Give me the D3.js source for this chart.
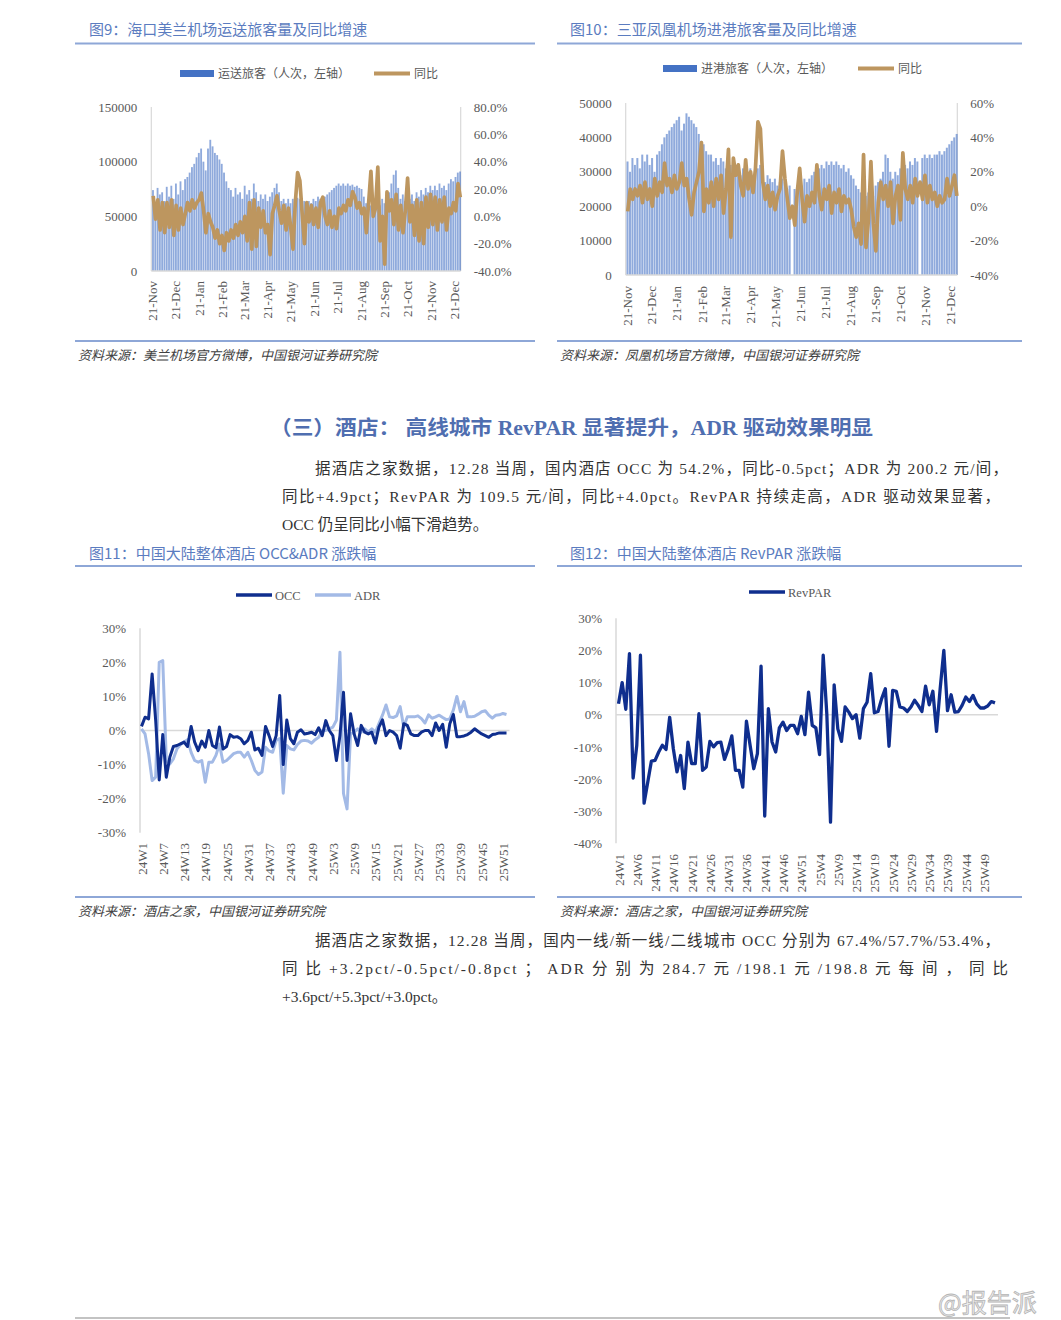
<!DOCTYPE html>
<html><head><meta charset="utf-8">
<script src="https://cdn.jsdelivr.net/npm/d3@7"></script>
<style>
body{margin:0;background:#fff}
svg text{font-family:"Liberation Serif","Noto Sans CJK SC",serif}
</style>
</head><body>
<svg id="c" width="1061" height="1320"></svg>
<script>
// ---------------- DATA ----------------
// Airport charts: one value every 3 days starting 2024-11-21
const seriesStart = '2024-11-21';
const tickDates = ['2024-11-21','2024-12-21','2025-01-21','2025-02-21','2025-03-21','2025-04-21','2025-05-21',
  '2025-06-21','2025-07-21','2025-08-21','2025-09-21','2025-10-21','2025-11-21','2025-12-21'];
// Haikou Meilan passengers (thousand persons)
const meilanPax = [74,62,76,70,
 72,64,77,68,78,66,80,70,82,74,
 84,86,90,95,98,104,108,112,100,92,
 112,120,114,108,106,102,98,90,82,76,
 74,68,76,70,72,66,78,70,74,66,
 80,72,64,70,66,70,64,68,72,76,
 80,72,64,66,62,66,62,66,63,67,
 66,62,64,60,64,62,66,64,68,66,
 66,68,70,72,74,76,78,80,78,80,
 78,80,78,79,77,78,76,75,68,62,
 58,60,62,58,64,60,66,62,68,72,
 80,88,92,76,66,70,64,72,66,70,
 64,72,68,74,70,76,72,78,74,78,
 74,80,76,78,74,80,84,82,86,90,91];
// Haikou Meilan YoY (%)
const meilanYoy = [15,-2,12,-10,
 10,-12,10,-8,12,-14,8,-10,6,-6,
 2,10,4,12,6,10,12,17,4,-12,
 2,-4,-8,-16,-10,-20,-14,-25,-12,-18,
 -10,-16,-6,-14,-4,-12,0,-18,10,-24,
 12,-22,6,-8,4,-12,-6,-28,2,8,
 15,4,-5,8,-10,6,-8,-24,10,32,
 26,2,-20,10,-4,8,-6,6,-8,10,
 14,0,-6,4,-8,0,-9,6,2,8,
 4,12,8,18,14,6,10,2,6,-12,
 10,33,0,6,36,-18,0,-35,18,4,
 12,-6,16,-10,8,-12,4,28,-4,8,
 -14,12,-18,10,-20,14,-8,16,-6,14,
 -10,12,-4,14,-10,6,2,10,4,24,14];
// Sanya Phoenix arrivals (thousand persons)
const fenghuangPax = [33,30,34,32,
 34,31,35,33,35,32,34,30,35,36,
 38,40,41,42,43,44,45,46,42,44,
 47,46,45,44,43,41,39,38,36,35,
 35,33,34,32,34,33,31,33,32,30,
 32,31,29,31,30,29,31,28,30,31,
 32,29,27,29,28,27,28,26,27,28,
 27,25,26,null,25,26,27,26,28,27,
 28,29,30,29,31,32,31,33,32,33,
 32,33,32,31,32,30,31,29,28,26,
 25,24,25,23,24,25,23,26,27,28,
 30,35,34,30,28,30,29,31,30,32,
 31,33,32,34,33,null,34,35,34,35,
 34,35,35,36,35,36,37,38,39,40,41];
// Sanya Phoenix YoY (%)
const fenghuangYoy = [-3,10,4,10,
 6,12,2,14,4,10,0,16,6,14,
 8,25,12,16,8,18,10,14,25,12,
 16,4,-5,8,14,20,37,-3,10,2,
 14,0,16,4,18,-4,10,33,-18,28,
 18,24,12,6,27,10,20,8,22,49,
 45,14,4,12,0,8,-2,6,10,32,
 16,4,-7,0,-11,8,22,4,-9,6,
 0,8,2,24,6,-2,10,4,12,-4,
 8,2,10,-3,6,2,4,-2,-12,-18,
 -10,-22,30,-24,-8,26,-10,-26,2,14,
 4,12,0,14,-10,6,12,-8,31,10,
 4,12,2,16,6,14,4,18,2,12,
 4,8,0,6,2,4,16,6,12,18,6];

// Hotel weekly data (24W1 .. 25W52), YoY %
const weeks = [];
['24','25'].forEach(y => { for (let w = 1; w <= 52; w++) weeks.push(y + 'W' + w); });
const occ = [1.2,3.9,3.4,16.6,3,-14.5,-1.2,-13.7,-7.8,-4.7,
 -4.4,-3.9,-3.4,-4.7,1.2,-3.4,-5.9,-3.1,-4.9,0,
 -4.4,-5.1,1,-5.4,-4.7,-1.2,-2,-1.8,-2.4,-3.9,
 -2.9,-0.5,-5.7,-5.2,-7.3,1.2,-1.5,-4.7,-1.5,10.3,
 -10,3.1,-2.4,-3.9,-0.5,0.2,-1,-0.8,-0.5,-1.2,
 0.8,-1.5,2.9,0,-1.5,-8.8,-1.5,11.2,-8.8,4.9,
 -1,-4.4,1.5,-0.5,-1,-0.5,-3.7,1,3.1,-1.5,
 0,-0.5,-1.5,-5.2,2,1.5,-1,-1.5,-1.5,-0.5,
 0,0,-1.5,2.2,0,1.8,-4.9,2,4.7,-1.8,
 -1.8,-1.6,-1.2,-0.5,0.5,-0.3,-1,-1.5,-2,-1.2,
 -1,-0.7,-0.7,-0.7];
const adr = [0.5,-1,-6.8,-14.7,-13.7,20,20.5,-8.8,-9.8,-8.3,
 -5.4,-4.1,-3.4,-2.7,-6.4,-8.8,-9.3,-8.8,-15.2,-9.3,
 -9.3,-7.3,-4,-9.3,-8.8,-7.8,-6.8,-6.4,-6.4,-7.8,
 -6.4,-8.8,-11.7,-12.9,-12.2,-4.9,-6,-6.4,-2.9,-2.4,
 -18.4,-4.4,-5.4,-5.7,-4.1,-3.1,-2.9,-3.1,-3.7,-2.7,
 -2,0,0,0.5,1,3,23,-18.5,-23,-1,
 -0.5,0.5,-0.5,0.5,-0.5,0.5,-0.5,2,4.5,7.5,
 4,3.8,4.3,7,1,4,4,4,4.3,3.5,
 2.2,4.6,3.6,4,4.5,3.8,3.2,3.4,6,10,
 5.5,8.5,4,4,4.2,4.8,5.5,5.8,4.5,3.6,
 4.5,4.6,5,4.7];
const revpar = [3.4,10,1.7,19,-19.7,-9.5,18.5,-27.5,-21,-14.4,
 -14.2,-11.6,-9.5,-10.8,-0.8,-10.6,-17.8,-12.7,-23,-8.5,
 -15.2,-15.2,0.3,-17.3,-16.3,-8.3,-10,-8.7,-8.5,-13.9,
 -10.8,-6.6,-17.3,-17.3,-22.5,-2,-9.5,-16.8,-12.1,15.1,
 -31.5,1.9,-8.5,-11.6,-4.1,-2.3,-4.9,-3.3,-3.3,-5.9,
 -0.5,-6.2,7,-3.3,-4.1,-12.4,18.5,0,-33.4,9.3,
 -4.4,-8.3,2.4,0.8,-1.2,0,-7.3,1.9,3.9,12.8,
 0.6,1,5,8.1,-9.8,7.6,7.3,2.4,2.1,1,
 2.4,4.5,2.9,1,8.9,3.1,7.3,-5.2,8.1,20,
 1.3,6.2,0.8,1,2.9,5.5,4.1,6,3.4,2.1,
 2.1,2.7,4.1,3.7];

// Texts
const titles = ['图9：海口美兰机场运送旅客量及同比增速','图10：三亚凤凰机场进港旅客量及同比增速',
  '图11：中国大陆整体酒店 OCC&ADR 涨跌幅','图12：中国大陆整体酒店 RevPAR 涨跌幅'];
const sources = ['资料来源：美兰机场官方微博，中国银河证券研究院','资料来源：凤凰机场官方微博，中国银河证券研究院',
  '资料来源：酒店之家，中国银河证券研究院','资料来源：酒店之家，中国银河证券研究院'];
const heading = '（三）酒店：  高线城市 RevPAR 显著提升，ADR 驱动效果明显';
const para1 = ['据酒店之家数据，12.28 当周，国内酒店 OCC 为 54.2%，同比-0.5pct；ADR 为 200.2 元/间，',
  '同比+4.9pct；RevPAR 为 109.5 元/间，同比+4.0pct。RevPAR 持续走高，ADR 驱动效果显著，',
  'OCC 仍呈同比小幅下滑趋势。'];
const para2 = ['据酒店之家数据，12.28 当周，国内一线/新一线/二线城市 OCC 分别为 67.4%/57.7%/53.4%，',
  '同 比 +3.2pct/-0.5pct/-0.8pct ； ADR  分 别 为  284.7  元 /198.1  元 /198.8  元 每 间 ， 同 比',
  '+3.6pct/+5.3pct/+3.0pct。'];

// ---------------- DRAW ----------------
const svg = d3.select('#c');
const TITLE = '#5B7CC0', RULE = '#8EA7D7', TICK = '#595959', AXIS = '#D9D9D9';
const BAR = '#4472C4', GOLD = '#BD965F', DARK = '#0F2E8E', LIGHT = '#A3BAE6';
const parse = d3.timeParse('%Y-%m-%d');
const start = parse(seriesStart);
const CJK = '"Noto Sans CJK SC","Liberation Serif",sans-serif';
const fmt = spec => { const f = d3.format(spec); return d => f(d).replace('\u2212', '-'); };

function hline(x1, x2, y, color, w) {
  svg.append('line').attr('x1', x1).attr('x2', x2).attr('y1', y).attr('y2', y)
    .attr('stroke', color).attr('stroke-width', w);
}
function frame(i, x0, x1, ty, ruleTop, ruleBot, sy, tx) {
  svg.append('text').attr('x', tx).attr('y', ty).text(titles[i])
    .attr('font-size', 15).attr('fill', TITLE).style('font-family', CJK);
  hline(x0, x1, ruleTop, RULE, 2);
  hline(x0, x1, ruleBot, RULE, 2);
  svg.append('text').attr('x', x0 + 3).attr('y', sy).text(sources[i])
    .attr('font-size', 13).attr('fill', '#404040').attr('font-style', 'italic').style('font-family', CJK);
}

function airport(o) {
  const xs = d3.scaleTime().domain([parse('2024-11-20'), parse('2025-12-30')]).range([o.x0, o.x1]);
  const yL = d3.scaleLinear().domain([0, o.leftMax]).range([o.yBot, o.yTop]);
  const yR = d3.scaleLinear().domain(o.rightDom).range([o.yBot, o.yTop]);
  const dates = o.pax.map((_, i) => d3.timeDay.offset(start, 3 * i));
  const g = svg.append('g');
  g.append('line').attr('x1', o.x0).attr('x2', o.x0).attr('y1', o.yTop).attr('y2', o.yBot).attr('stroke', AXIS).attr('stroke-width', 1.2);
  g.append('line').attr('x1', o.x1).attr('x2', o.x1).attr('y1', o.yTop).attr('y2', o.yBot).attr('stroke', AXIS).attr('stroke-width', 1.2);
  const bars = o.pax.map((v, i) => ({ v, d: dates[i] })).filter(d => d.v != null);
  g.selectAll('rect.b').data(bars).join('rect')
    .attr('x', d => xs(d.d))
    .attr('width', d => Math.max(0.6, xs(d3.timeDay.offset(d.d, 3)) - xs(d.d) - 0.45))
    .attr('y', d => yL(d.v * 1000))
    .attr('height', d => o.yBot - yL(d.v * 1000))
    .attr('fill', BAR).attr('fill-opacity', 0.6);
  g.append('line').attr('x1', o.x0).attr('x2', o.x1).attr('y1', o.yBot).attr('y2', o.yBot).attr('stroke', AXIS).attr('stroke-width', 1.5);
  const ln = d3.line()
    .x((v, i) => xs(new Date(+dates[i] + 1.5 * 864e5)))
    .y(v => yR(v / 100));
  g.append('path').attr('d', ln(o.yoy)).attr('fill', 'none').attr('stroke', GOLD)
    .attr('stroke-width', 3.7).attr('stroke-linejoin', 'round');
  // axes
  const la = g.append('g').attr('transform', `translate(${o.x0},0)`)
    .call(d3.axisLeft(yL).tickValues(o.leftTicks).tickSize(0).tickPadding(14).tickFormat(d3.format('d')));
  const ra = g.append('g').attr('transform', `translate(${o.x1},0)`)
    .call(d3.axisRight(yR).tickValues(o.rightTicks).tickSize(0).tickPadding(13).tickFormat(fmt(o.rightFmt)));
  const ba = g.append('g').attr('transform', `translate(0,${o.labelTop})`)
    .call(d3.axisBottom(xs).tickValues(tickDates.map(parse)).tickSize(0).tickFormat(d3.timeFormat('%d-%b')));
  ba.selectAll('text').attr('y', 0).attr('dy', 0).attr('x', 0)
    .attr('transform', 'translate(4.5,0) rotate(-90)').attr('text-anchor', 'end');
  [la, ra, ba].forEach(a => {
    a.select('.domain').remove();
    a.selectAll('text').attr('font-size', 13).attr('fill', TICK).style('font-family', '"Liberation Serif",serif');
  });
  // legend
  g.append('rect').attr('x', o.legX).attr('y', o.legY - 3.5).attr('width', 34).attr('height', 7).attr('fill', BAR);
  g.append('text').attr('x', o.legX + 38).attr('y', o.legY).attr('dy', '0.36em').text(o.legLabel)
    .attr('font-size', 12).attr('fill', TICK).style('font-family', CJK);
  g.append('line').attr('x1', o.legX2).attr('x2', o.legX2 + 36).attr('y1', o.legY).attr('y2', o.legY)
    .attr('stroke', GOLD).attr('stroke-width', 4);
  g.append('text').attr('x', o.legX2 + 40).attr('y', o.legY).attr('dy', '0.36em').text('同比')
    .attr('font-size', 12).attr('fill', TICK).style('font-family', CJK);
}

function hotel(o) {
  const xs = d3.scalePoint().domain(weeks).range([o.x0, o.x1]);
  const ys = d3.scaleLinear().domain(o.yDom).range([o.yBot, o.yTop]);
  const g = svg.append('g');
  g.append('line').attr('x1', o.ax).attr('x2', o.ax).attr('y1', o.yTop).attr('y2', o.yBot).attr('stroke', AXIS).attr('stroke-width', 1.5);
  g.append('line').attr('x1', o.ax).attr('x2', o.x1 + 3).attr('y1', ys(0)).attr('y2', ys(0)).attr('stroke', AXIS).attr('stroke-width', 1.5);
  o.series.forEach(s => {
    const ln = d3.line().x((v, i) => xs(weeks[i])).y(v => ys(v / 100));
    g.append('path').attr('d', ln(s.values)).attr('fill', 'none').attr('stroke', s.color)
      .attr('stroke-width', s.w).attr('stroke-linejoin', 'round');
  });
  const la = g.append('g').attr('transform', `translate(${o.ax},0)`)
    .call(d3.axisLeft(ys).tickValues(o.yTicks).tickSize(0).tickPadding(o.pad).tickFormat(fmt('.0%')));
  const ba = g.append('g').attr('transform', `translate(0,${o.labelTop})`)
    .call(d3.axisBottom(xs).tickValues(weeks.filter((w, i) => i % o.every === 0)).tickSize(0));
  ba.selectAll('text').attr('y', 0).attr('dy', 0).attr('x', 0)
    .attr('transform', 'translate(4.5,0) rotate(-90)').attr('text-anchor', 'end');
  [la, ba].forEach(a => {
    a.select('.domain').remove();
    a.selectAll('text').attr('font-size', 13).attr('fill', TICK).style('font-family', '"Liberation Serif",serif');
  });
  o.legend.forEach(l => {
    g.append('line').attr('x1', l.x).attr('x2', l.x + 36).attr('y1', o.legY).attr('y2', o.legY)
      .attr('stroke', l.color).attr('stroke-width', 3.5);
    g.append('text').attr('x', l.x + 39).attr('y', o.legY).attr('dy', '0.36em').text(l.label)
      .attr('font-size', 12.5).attr('fill', TICK);
  });
}

// Frames
frame(0, 75, 535, 35, 43.5, 341, 360, 89);
frame(1, 557, 1022, 35, 43.5, 341, 360, 570);
frame(2, 75, 535, 559, 566, 897, 916, 89);
frame(3, 557, 1022, 559, 566, 897, 916, 570);

airport({ x0: 151.3, x1: 460.7, yTop: 107, yBot: 271, pax: meilanPax, yoy: meilanYoy,
  leftMax: 150000, leftTicks: [0, 50000, 100000, 150000],
  rightDom: [-0.4, 0.8], rightTicks: [-0.4, -0.2, 0, 0.2, 0.4, 0.6, 0.8], rightFmt: '.1%',
  labelTop: 281, legX: 180, legX2: 374, legY: 73.5, legLabel: '运送旅客（人次，左轴）' });
airport({ x0: 625.7, x1: 957.3, yTop: 103, yBot: 275, pax: fenghuangPax, yoy: fenghuangYoy,
  leftMax: 50000, leftTicks: [0, 10000, 20000, 30000, 40000, 50000],
  rightDom: [-0.4, 0.6], rightTicks: [-0.4, -0.2, 0, 0.2, 0.4, 0.6], rightFmt: '.0%',
  labelTop: 286, legX: 663, legX2: 858, legY: 68.5, legLabel: '进港旅客（人次，左轴）' });

hotel({ x0: 141.5, x1: 506.5, ax: 140, yTop: 628.3, yBot: 832.7, yDom: [-0.3, 0.3],
  yTicks: [-0.3, -0.2, -0.1, 0, 0.1, 0.2, 0.3], pad: 14, labelTop: 843, every: 6,
  series: [{ values: adr, color: LIGHT, w: 3 }, { values: occ, color: DARK, w: 3 }],
  legY: 595, legend: [{ x: 236, label: 'OCC', color: DARK }, { x: 315, label: 'ADR', color: LIGHT }] });
hotel({ x0: 618.5, x1: 995, ax: 616, yTop: 618.3, yBot: 843.3, yDom: [-0.4, 0.3],
  yTicks: [-0.4, -0.3, -0.2, -0.1, 0, 0.1, 0.2, 0.3], pad: 14, labelTop: 854, every: 5,
  series: [{ values: revpar, color: DARK, w: 3.3 }],
  legY: 592, legend: [{ x: 749, label: 'RevPAR', color: DARK }] });

// Heading and paragraphs
svg.append('text').attr('x', 270).attr('y', 435).text(heading)
  .attr('font-size', 20).attr('font-weight', 700).attr('fill', '#4F6EB0')
  .attr('textLength', 603).attr('lengthAdjust', 'spacingAndGlyphs');
function para(lines, ys, widths) {
  lines.forEach((t, i) => {
    const el = svg.append('text').attr('x', i === 0 ? 315 : 282).attr('y', ys[i]).text(t)
      .attr('font-size', 15.5).attr('fill', '#333');
    if (widths[i]) el.attr('textLength', widths[i]).attr('lengthAdjust', 'spacing');
  });
}
para(para1, [474, 502, 530], [693, 718, 0]);
para(para2, [946, 974, 1002], [685, 726, 0]);

// Footer
hline(75, 1010, 1318, '#888', 1.2);
svg.append('text').attr('x', 938).attr('y', 1312).text('@报告派')
  .attr('font-size', 25).attr('fill', '#eeeeee').attr('stroke', '#b5b5b5').attr('stroke-width', 0.8)
  .style('font-family', CJK);
</script>
</body></html>
